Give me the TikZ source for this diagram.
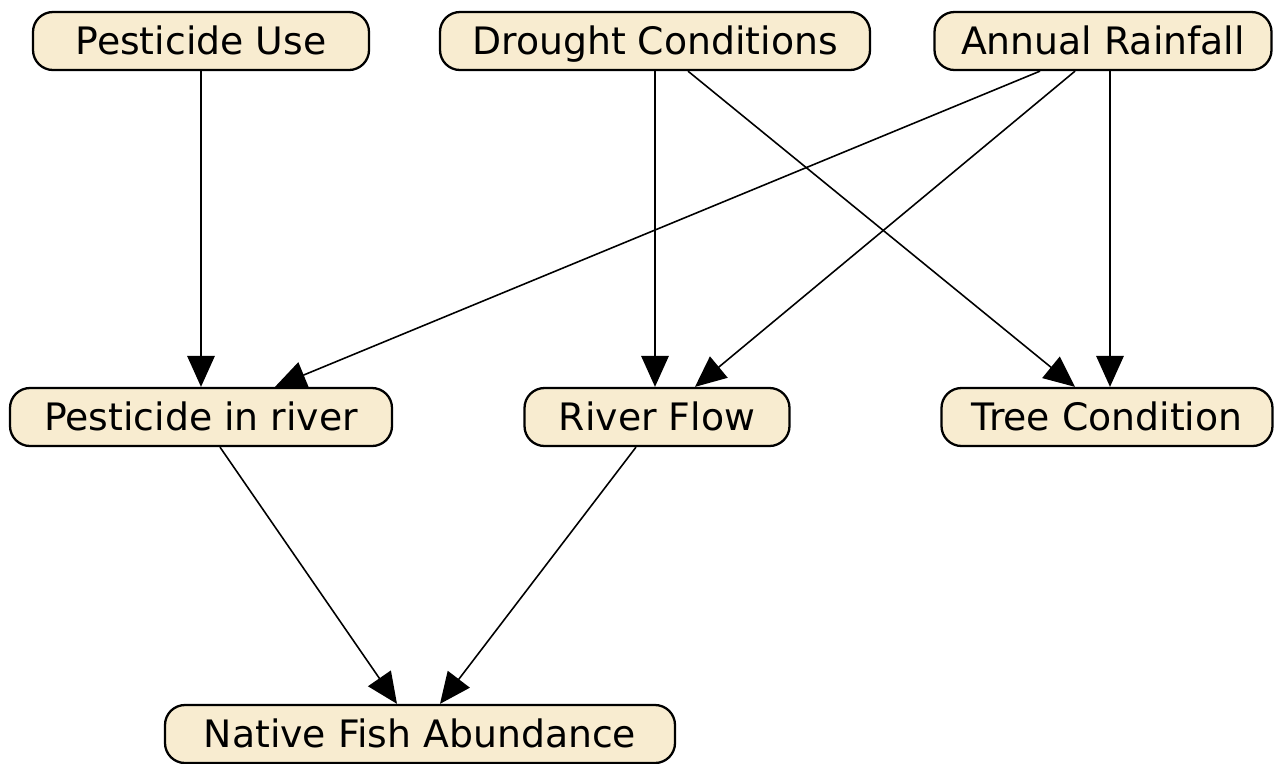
\documentclass[tikz,border=0pt]{standalone}
\usepackage{fontspec}
\setmainfont{DejaVu Sans}
\usetikzlibrary{arrows.meta}
\definecolor{nodefill}{HTML}{F8ECD0}

\begin{document}
\begin{tikzpicture}[
  every node/.style={font=\fontsize{21.5}{24}\selectfont},
  var/.style={draw=black, line width=1.3pt, fill=nodefill, rounded corners=0.4cm,
              minimum height=1.16cm, inner xsep=0.3cm, inner ysep=0pt,
              text height=0.6cm, text depth=0.05cm},
  arr/.style={-{Triangle[length=0.62cm, width=0.55cm]}, line width=0.9pt, color=black},
]
\useasboundingbox (0,0) rectangle (25.48,-15.26);

%% Top row: causes
\node[var, minimum width=6.72cm] (pestuse) at (4.02,-0.82) {Pesticide Use};
\node[var, minimum width=8.6cm] (drought) at (13.1,-0.82) {Drought Conditions};
\node[var, minimum width=6.74cm] (rainfall) at (22.06,-0.82) {Annual Rainfall};

%% Middle row
\node[var, minimum width=7.64cm] (pestriver) at (4.02,-8.34) {Pesticide in river};
\node[var, minimum width=5.3cm] (flow) at (13.14,-8.34) {River Flow};
\node[var, minimum width=6.62cm] (tree) at (22.14,-8.34) {Tree Condition};

%% Bottom row
\node[var, minimum width=10.2cm] (fish) at (8.4,-14.68) {Native Fish Abundance};

%% Arrows
\draw[arr] (pestuse) -- (pestriver);
\draw[arr] (drought.south) -- (drought.south |- flow.north);
\draw[arr] ([xshift=0.66cm]drought.south) -- ([xshift=-0.64cm]tree.north);
\draw[arr] ([xshift=-1.26cm]rainfall.south) -- ([xshift=1.48cm]pestriver.north);
\draw[arr] ([xshift=-0.56cm]rainfall.south) -- ([xshift=0.76cm]flow.north);
\draw[arr] ([xshift=0.14cm]rainfall.south) -- ([xshift=0.06cm]tree.north);
\draw[arr] ([xshift=0.38cm]pestriver.south) -- ([xshift=-0.46cm]fish.north);
\draw[arr] ([xshift=-0.42cm]flow.south) -- ([xshift=0.4cm]fish.north);

\end{tikzpicture}
\end{document}
